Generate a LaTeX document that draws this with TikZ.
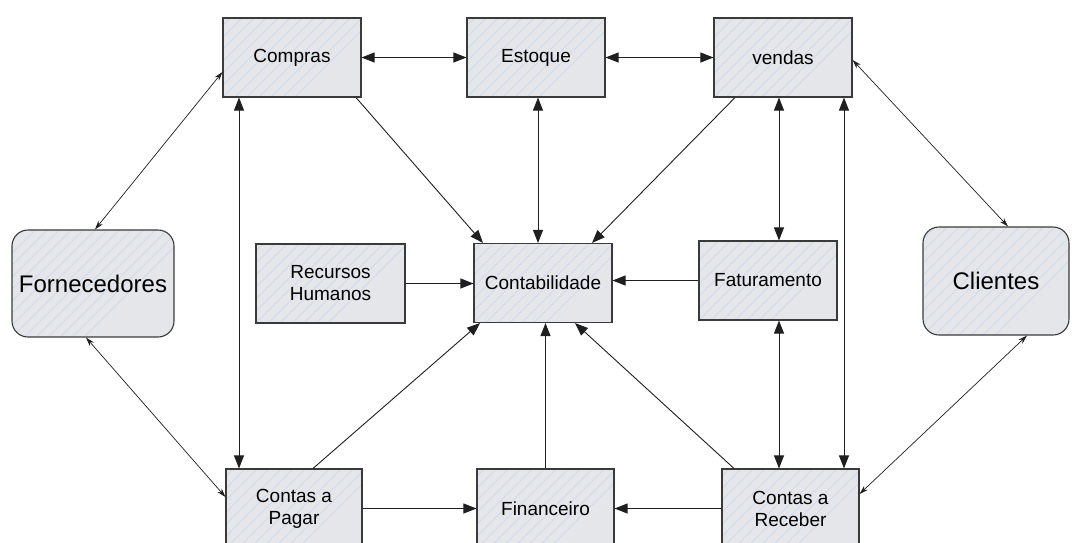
\documentclass[tikz,border=0pt]{standalone}
\usepackage{fontspec}
\setmainfont{Liberation Sans}
\usetikzlibrary{arrows.meta}
\definecolor{boxfill}{RGB}{228,230,234}
\definecolor{boxstripe}{RGB}{204,218,240}
\definecolor{boxedge}{RGB}{58,58,58}
\begin{document}
\begin{tikzpicture}[x=1pt,y=-1pt,
  module/.style={draw=boxedge, line width=1.1pt, fill=boxfill,
    minimum width=138pt, minimum height=79pt, inner sep=0pt, align=center,
    font=\fontsize{19}{22}\selectfont,
    path picture={
      \foreach \s in {-12,...,16}
        \draw[boxstripe, line width=0.7pt]
          ([xshift=\s*12pt-120pt]path picture bounding box.south west) -- ++(260pt,260pt);
    }},
  party/.style={module, rounded corners=16pt, font=\fontsize{24}{28}\selectfont},
  link/.style={line width=0.9pt, draw=black!88},
  both/.style={link, {Triangle[length=13pt,width=10pt]}-{Triangle[length=13pt,width=10pt]}},
  into/.style={link, -{Triangle[length=13pt,width=10pt]}},
  slim/.style={line width=0.7pt, draw=black!88, {Stealth[length=9pt,width=5.5pt]}-{Stealth[length=9pt,width=5.5pt]}}
]
\useasboundingbox (0,0) rectangle (1072,542);
\clip (0,0) rectangle (1072,542);

% top row
\node[module] (comp) at (292,57.5) {Compras};
\node[module] (est)  at (536,57.5) {Estoque};
\node[module] (vend) at (783,57.5) {vendas};

% middle row
\node[party, minimum width=162pt, minimum height=107pt] (forn) at (93,283.5) {Fornecedores};
\node[module, minimum width=149pt] (rh) at (330.5,283.5) {Recursos\\Humanos};
\node[module] (cont) at (543,283) {Contabilidade};
\node[module] (fat)  at (768,280.5) {Faturamento};
\node[party, minimum width=146pt, minimum height=108pt] (cli) at (996,281) {Clientes};

% bottom row
\node[module, minimum width=136pt] (pag) at (294,508.5) {Contas a\\Pagar};
\node[module, minimum width=137pt] (fin) at (545.5,508.5) {Financeiro};
\node[module, minimum width=137pt] (rec) at (790.5,508.5) {Contas a\\Receber};

% two-way flows
\draw[both] (comp.east) -- (est.west);
\draw[both] (est.east) -- (vend.west);
\draw[both] ([xshift=-53pt]comp.south) -- ([xshift=-55pt]pag.north);
\draw[both] ([xshift=2pt]est.south) -- ([xshift=-5pt]cont.north);
\draw[both] ([xshift=-4pt]vend.south) -- ([xshift=11pt]fat.north);
\draw[both] ([xshift=61pt]vend.south) -- ([xshift=53.5pt]rec.north);
\draw[both] ([xshift=11pt]fat.south) -- ([xshift=-11.5pt]rec.north);

% flows into accounting and finance
\draw[into] (rh.east) -- (rh.east -| cont.west);
\draw[into] (fat.west) -- (fat.west -| cont.east);
\draw[into] (fin.north) -- (fin.north |- cont.south);
\draw[into] ([xshift=64pt]comp.south) -- ([xshift=-60pt]cont.north);
\draw[into] ([xshift=-48pt]vend.south) -- ([xshift=49pt]cont.north);
\draw[into] ([xshift=19pt]pag.north) -- ([xshift=-63pt]cont.south);
\draw[into] ([xshift=-56.5pt]rec.north) -- ([xshift=32pt]cont.south);
\draw[into] (pag.east) -- (fin.west);
\draw[into] (rec.west) -- (fin.east);

% suppliers and customers
\draw[slim] ([yshift=-14.5pt]comp.west) -- ([xshift=2pt]forn.north);
\draw[slim] ([xshift=-7pt]forn.south) -- ([yshift=11.5pt]pag.west);
\draw[slim] ([yshift=-2.5pt]vend.east) -- ([xshift=12pt]cli.north);
\draw[slim] ([xshift=31pt]cli.south) -- ([yshift=14.5pt]rec.east);
\end{tikzpicture}
\end{document}
